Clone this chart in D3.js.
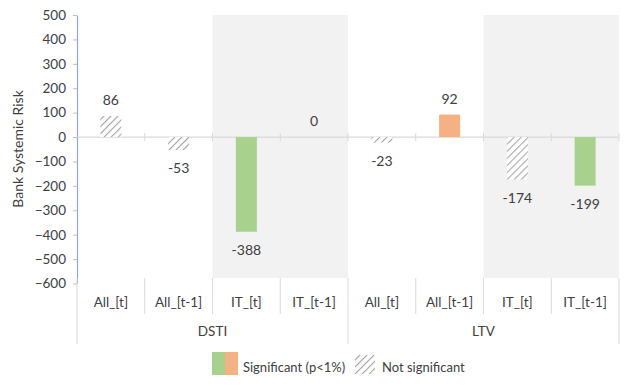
<!DOCTYPE html>
<html>
<head>
<meta charset="utf-8">
<script src="https://cdn.jsdelivr.net/npm/d3@7"></script>
<style>
  body { margin: 0; background: #fff; }
  text { font-family: Lato, "Open Sans", sans-serif; fill: #404040; }
</style>
</head>
<body>
<div id="chart"></div>
<script>
const width = 632;
const height = 386;

// datos
const groups = ['DSTI', 'LTV'];
const categories = ['All_[t]', 'All_[t-1]', 'IT_[t]', 'IT_[t-1]'];
const values = [86, -53, -388, 0, -23, 92, -174, -199];
const fills = ['hatch', 'hatch', 'green', 'none', 'hatch', 'orange', 'hatch', 'green'];
const shadedCats = ['IT_[t]', 'IT_[t-1]'];
const yTicks = [-600, -500, -400, -300, -200, -100, 0, 100, 200, 300, 400, 500];

const colors = { green: '#a9d18e', orange: '#f4b183' };

const plotLeft = 77;
const plotRight = 619;
const labelTop = 278;

const svg = d3.select('#chart').append('svg')
  .attr('width', width)
  .attr('height', height);

const defs = svg.append('defs');
const hatch = defs.append('pattern')
  .attr('id', 'hatch')
  .attr('patternUnits', 'userSpaceOnUse')
  .attr('width', 5)
  .attr('height', 5)
  .attr('patternTransform', 'rotate(45)');
hatch.append('rect').attr('width', 5).attr('height', 5).attr('fill', '#fff');
hatch.append('line')
  .attr('x1', 0).attr('y1', 0).attr('x2', 0).attr('y2', 5)
  .attr('stroke', '#a6a6a6').attr('stroke-width', 2.2);

// filas: grupo + categoría
const rows = [];
groups.forEach((g, gi) => {
  categories.forEach((c, ci) => {
    const i = gi * categories.length + ci;
    rows.push({ key: g + '|' + c, group: g, cat: c, value: values[i], fill: fills[i] });
  });
});

const x = d3.scaleBand()
  .domain(rows.map(d => d.key))
  .range([plotLeft, plotRight])
  .padding(0);

const y = d3.scaleLinear()
  .domain([-600, 500])
  .range([283.5, 15]);

const bw = x.bandwidth();
const barW = bw * 0.31;

// zonas sombreadas (IT)
groups.forEach(g => {
  const x0 = x(g + '|' + shadedCats[0]);
  const x1 = x(g + '|' + shadedCats[1]) + bw;
  svg.append('rect')
    .attr('x', x0)
    .attr('y', y(500))
    .attr('width', x1 - x0)
    .attr('height', labelTop - y(500))
    .attr('fill', '#f2f2f2');
});

// eje Y
const yAxis = svg.append('g')
  .attr('transform', `translate(${plotLeft},0)`)
  .call(d3.axisLeft(y).tickValues(yTicks).tickSize(4).tickPadding(7).tickSizeOuter(0));
yAxis.select('.domain').attr('stroke', '#8eaadb').attr('stroke-width', 1.2);
yAxis.selectAll('.tick line').attr('stroke', '#bfbfbf');
yAxis.selectAll('.tick text')
  .style('font-family', 'Lato, "Open Sans", sans-serif')
  .style('font-size', '13.5px')
  .attr('fill', '#404040');

// línea de cero y marcas de categoría
const y0 = y(0);
svg.append('line')
  .attr('x1', plotLeft).attr('x2', plotRight)
  .attr('y1', y0).attr('y2', y0)
  .attr('stroke', '#d9d9d9').attr('stroke-width', 1.3);

const boundaries = rows.map(d => x(d.key)).concat([plotRight]);
svg.selectAll('.ztick')
  .data(boundaries.slice(1))
  .enter()
  .append('line')
  .attr('x1', d => d).attr('x2', d => d)
  .attr('y1', y0 - 4).attr('y2', y0 + 4)
  .attr('stroke', '#d9d9d9');

// barras
svg.selectAll('.bar')
  .data(rows.filter(d => d.fill !== 'none'))
  .enter()
  .append('rect')
  .attr('class', 'bar')
  .attr('x', d => x(d.key) + (bw - barW) / 2)
  .attr('y', d => y(Math.max(0, d.value)))
  .attr('width', barW)
  .attr('height', d => Math.abs(y(d.value) - y0))
  .attr('fill', d => d.fill === 'hatch' ? 'url(#hatch)' : colors[d.fill]);

// etiquetas de valores
svg.selectAll('.labelbar')
  .data(rows)
  .enter()
  .append('text')
  .attr('class', 'labelbar')
  .attr('x', d => x(d.key) + bw / 2)
  .attr('y', d => d.value >= 0 ? y(d.value) - 11 : y(d.value) + 23)
  .attr('text-anchor', 'middle')
  .style('font-size', '14px')
  .text(d => d.value);

// separadores del eje X
boundaries.forEach((b, i) => {
  const major = i % categories.length === 0;
  svg.append('line')
    .attr('x1', b).attr('x2', b)
    .attr('y1', labelTop)
    .attr('y2', major ? 344 : 314)
    .attr('stroke', '#d9d9d9');
});

// etiquetas de categoría
svg.selectAll('.catlabel')
  .data(rows)
  .enter()
  .append('text')
  .attr('class', 'catlabel')
  .attr('x', d => x(d.key) + bw / 2)
  .attr('y', 307)
  .attr('text-anchor', 'middle')
  .style('font-size', '13.5px')
  .text(d => d.cat);

// etiquetas de grupo
groups.forEach(g => {
  const x0 = x(g + '|' + categories[0]);
  const x1 = x(g + '|' + categories[categories.length - 1]) + bw;
  svg.append('text')
    .attr('x', (x0 + x1) / 2)
    .attr('y', 336)
    .attr('text-anchor', 'middle')
    .style('font-size', '13.5px')
    .text(g);
});

// título eje Y
svg.append('text')
  .attr('transform', `translate(23, 149) rotate(-90)`)
  .attr('text-anchor', 'middle')
  .style('font-size', '14px')
  .text('Bank Systemic Risk');

// leyenda
const legend = svg.append('g').attr('class', 'legend');
legend.append('rect')
  .attr('x', 212).attr('y', 352).attr('width', 13).attr('height', 23)
  .attr('fill', colors.green);
legend.append('rect')
  .attr('x', 225).attr('y', 352).attr('width', 13).attr('height', 23)
  .attr('fill', colors.orange);
legend.append('text')
  .attr('x', 243).attr('y', 372)
  .style('font-size', '13px')
  .text('Significant (p<1%)');
legend.append('rect')
  .attr('x', 355).attr('y', 355).attr('width', 20).attr('height', 19)
  .attr('fill', 'url(#hatch)');
legend.append('text')
  .attr('x', 382).attr('y', 372)
  .style('font-size', '13px')
  .text('Not significant');
</script>
</body>
</html>
